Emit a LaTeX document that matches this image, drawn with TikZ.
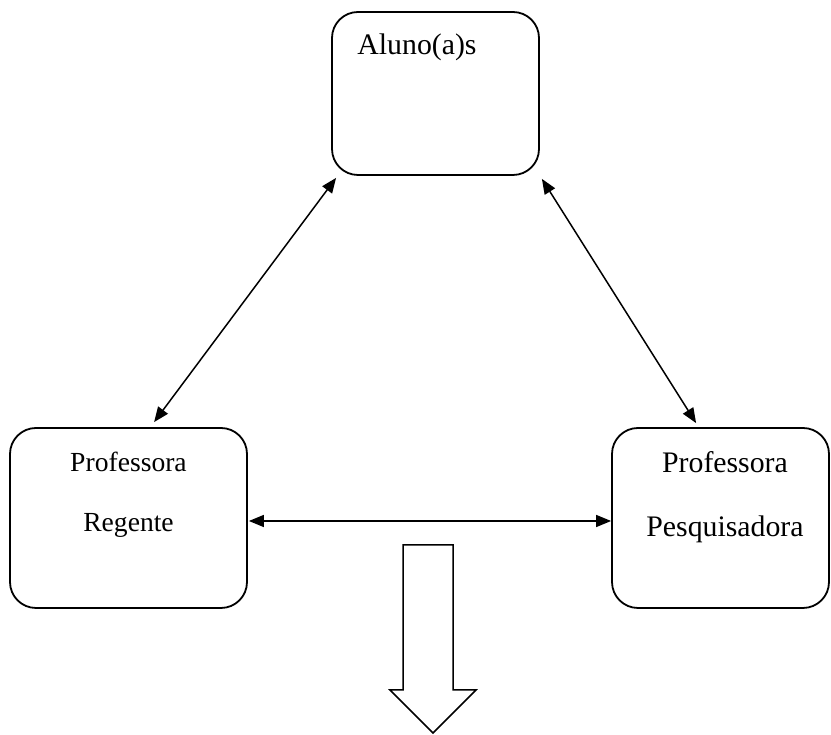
\documentclass[tikz,border=0pt]{standalone}
\usepackage{fontspec}
\setmainfont{Liberation Serif}
\usepackage{tikz}
\usetikzlibrary{positioning, arrows.meta, calc}

\tikzset{
    box/.style={draw=black, line width=1.8pt, rounded corners=26pt, minimum width=#1, inner sep=0pt},
    label/.style={anchor=base, font=\fontsize{29.8}{34}\selectfont},
    smalllabel/.style={anchor=base, font=\fontsize{27.6}{32}\selectfont},
    link/.style={line width=1.5pt, {Triangle[length=15pt,width=12pt]}-{Triangle[length=15pt,width=12pt]}},
}

\begin{document}
\begin{tikzpicture}[x=1pt, y=1pt]
            \useasboundingbox (0,0) rectangle (831,735);

            % boxes
            \node[box=207pt, minimum height=163pt] (alunos) at (435.5,641.5) {};
            \node[box=237pt, minimum height=180pt] (regente) at (128.5,217) {};
            \node[box=217pt, minimum height=180pt] (pesquisadora) at (720.5,217) {};

            % texts
            \node[label] (alunostxt) at (417,680) {Aluno(a)s};
            \node[smalllabel] (prof1) at (128.5,263) {Professora};
            \node[smalllabel] (reg) at (128.5,203) {Regente};
            \node[label] (prof2) at (725,262) {Professora};
            \node[label] (pesq) at (725,198) {Pesquisadora};

            % connectors
            \draw[link] ([xshift=5pt,yshift=-2pt]alunos.south west)
                -- ([xshift=145pt,yshift=5pt]regente.north west);
            \draw[link] ([xshift=2pt,yshift=-3pt]alunos.south east)
                -- ([xshift=85pt,yshift=4pt]pesquisadora.north west);
            \draw[link] ([xshift=1pt,yshift=-3pt]regente.east)
                -- ([yshift=-3pt]pesquisadora.west);

            % big arrow down
            \draw[line width=1.5pt, line join=miter]
                (403,190) -- (453,190) -- (453,45) -- (476,45) -- (433,2)
                -- (390,45) -- (403,45) -- cycle;
        \end{tikzpicture}
\end{document}
